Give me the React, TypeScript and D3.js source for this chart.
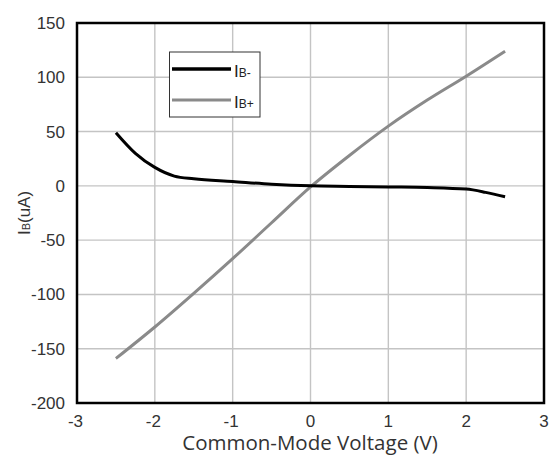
import { useEffect, useRef } from 'react'
import * as d3 from 'd3'

// values
const xTicks = [-3, -2, -1, 0, 1, 2, 3]
const yTicks = [-200, -150, -100, -50, 0, 50, 100, 150]

const ibMinus: [number, number][] = [
  [-2.5, 49], [-2.25, 30], [-2, 17], [-1.75, 9], [-1.5, 6.5], [-1, 4], [-0.5, 1.5],
  [0, 0], [0.5, -0.5], [1, -1], [1.5, -1.5], [2, -3], [2.25, -6], [2.5, -10],
]
const ibPlus: [number, number][] = [
  [-2.5, -159], [-2, -130], [-1.5, -99], [-1, -67], [-0.5, -34], [0, -1],
  [0.5, 28], [1, 55], [1.5, 79], [2, 101], [2.5, 124],
]

const W = 555
const H = 455

export default function App() {
  const ref = useRef<SVGSVGElement | null>(null)
  useEffect(() => {
    const svg = d3.select(ref.current)
    svg.selectAll('*').remove()
    const m = { top: 23, right: 11, bottom: 52, left: 77 }
    const x = d3.scaleLinear().domain([-3, 3]).range([m.left, W - m.right])
    const y = d3.scaleLinear().domain([-200, 150]).range([H - m.bottom, m.top])
    const tickFont = '"Liberation Sans", Arial, sans-serif'

    const grid = svg.append('g').attr('stroke', '#c4c4c4').attr('stroke-width', 1.4)
    grid.selectAll('line.v').data(xTicks.slice(1, -1)).enter().append('line')
      .attr('x1', (d) => x(d)).attr('x2', (d) => x(d))
      .attr('y1', y(-200)).attr('y2', y(150))
    grid.selectAll('line.h').data(yTicks.slice(1, -1)).enter().append('line')
      .attr('x1', x(-3)).attr('x2', x(3))
      .attr('y1', (d) => y(d)).attr('y2', (d) => y(d))

    const line = d3.line<[number, number]>()
      .x((d) => x(d[0]))
      .y((d) => y(d[1]))
      .curve(d3.curveMonotoneX)

    svg.append('path').datum(ibPlus).attr('fill', 'none').attr('stroke', '#8a8a8a')
      .attr('stroke-width', 3).attr('d', line)
    svg.append('path').datum(ibMinus).attr('fill', 'none').attr('stroke', '#000')
      .attr('stroke-width', 3).attr('d', line)

    // frame
    svg.append('rect').attr('x', x(-3)).attr('y', y(150))
      .attr('width', x(3) - x(-3)).attr('height', y(-200) - y(150))
      .attr('fill', 'none').attr('stroke', '#000').attr('stroke-width', 2.5)

    // ticks
    svg.append('g').selectAll('text').data(yTicks).enter().append('text')
      .attr('x', x(-3) - 12).attr('y', (d) => y(d) + 6)
      .attr('text-anchor', 'end').style('font-family', tickFont).style('font-size', '17px')
      .attr('fill', '#333').text((d) => String(d))
    svg.append('g').selectAll('text').data(xTicks).enter().append('text')
      .attr('x', (d) => x(d) - (d < 0 ? 1.5 : 0)).attr('y', y(-200) + 24)
      .attr('text-anchor', 'middle').style('font-family', tickFont).style('font-size', '17px')
      .attr('fill', '#333').text((d) => String(d))

    // x title
    svg.append('text').attr('x', 310).attr('y', 450).attr('text-anchor', 'middle')
      .style('font-family', '"Open Sans", sans-serif').style('font-size', '20.5px')
      .attr('fill', '#333').text('Common-Mode Voltage (V)')

    // y title
    const yt = svg.append('text').attr('transform', 'translate(30,213) rotate(-90)')
      .attr('text-anchor', 'middle').style('font-family', tickFont).style('font-size', '17px')
      .attr('fill', '#333')
    yt.append('tspan').text('I')
    yt.append('tspan').style('font-size', '11px').text('B')
    yt.append('tspan').text('(uA)')

    // legend
    const lg = svg.append('g')
    lg.append('rect').attr('x', 169.5).attr('y', 52).attr('width', 90.5).attr('height', 65)
      .attr('fill', '#fff').attr('stroke', '#333').attr('stroke-width', 1)
    const items = [
      { name: 'B-', color: '#000', w: 3.5, ly: 69 },
      { name: 'B+', color: '#8a8a8a', w: 3, ly: 100 },
    ]
    items.forEach((it) => {
      lg.append('line').attr('x1', 172).attr('x2', 231).attr('y1', it.ly).attr('y2', it.ly)
        .attr('stroke', it.color).attr('stroke-width', it.w)
      const t = lg.append('text').attr('x', 234).attr('y', it.ly + 8)
        .style('font-family', tickFont).style('font-size', '17px').attr('fill', '#222')
      t.append('tspan').text('I')
      t.append('tspan').style('font-size', '12px').text(it.name)
    })
  }, [])
  return <svg ref={ref} width={W} height={H} style={{ position: 'absolute', left: 0, top: 0, background: '#fff' }} />
}
